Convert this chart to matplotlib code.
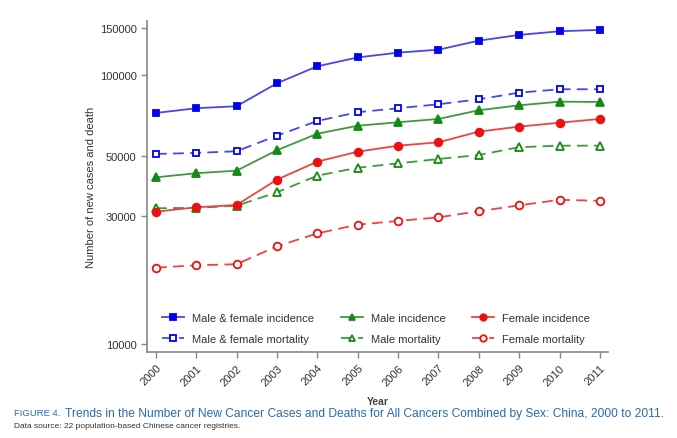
import matplotlib
matplotlib.use("Agg")
import matplotlib.pyplot as plt
from matplotlib.ticker import FixedLocator, NullLocator

plt.rcParams['font.family'] = ['Liberation Sans', 'DejaVu Sans']

years = [2000, 2001, 2002, 2003, 2004, 2005, 2006, 2007, 2008, 2009, 2010, 2011]
mf_incidence = [72400, 75400, 76700, 93400, 108000, 116500, 121400, 124500, 134500, 141300, 145800, 147500]
mf_mortality = [50950, 51400, 52150, 59600, 67600, 72850, 75400, 78000, 81400, 86150, 88700, 88700]
m_incidence = [41700, 43200, 44150, 52600, 60600, 64900, 66850, 68770, 74100, 77300, 79750, 79550]
m_mortality = [32000, 32100, 32700, 36700, 42300, 45300, 47000, 48800, 50500, 54000, 54700, 54700]
f_incidence = [31070, 32270, 32900, 40900, 47700, 51960, 54700, 56300, 61700, 64400, 66600, 68770]
f_mortality = [19230, 19630, 19810, 23100, 25800, 27800, 28700, 29600, 31200, 32800, 34400, 34100]
yticks = [10000, 30000, 50000, 100000, 150000]
labels = ["Male & female incidence", "Male & female mortality", "Male incidence",
          "Male mortality", "Female incidence", "Female mortality"]

fig = plt.figure(figsize=(6.77, 4.39), dpi=100)
ax = fig.add_axes([147/677, 1-353/439, (608-147)/677, (353-22)/439])

styles = {
    'blue': ('#4848e4', '#0000f0'),
    'green': ('#3d9a3d', '#138a13'),
    'red': ('#ec4444', '#ee1010'),
}
series = [
    (mf_incidence, 'blue', '-', 's', True, 5.0),
    (mf_mortality, 'blue', '--', 's', False, 5.0),
    (m_incidence, 'green', '-', '^', True, 5.5),
    (m_mortality, 'green', '--', '^', False, 5.5),
    (f_incidence, 'red', '-', 'o', True, 5.5),
    (f_mortality, 'red', '--', 'o', False, 5.5),
]
handles = []
for (vals, c, ls, mk, filled, ms), lab in zip(series, labels):
    lc, mc = styles[c]
    h, = ax.plot(years, vals, color=lc, linestyle=ls, marker=mk, markersize=ms,
                 markerfacecolor=mc if filled else 'white', markeredgecolor=mc,
                 markeredgewidth=1.3, linewidth=1.3,
                 dashes=(6, 3.5) if ls == '--' else (None, None), label=lab)
    handles.append(h)

ax.set_yscale('log')
ax.set_ylim(9337, 159200)
ax.set_xlim(1999.78, 2011.2)
ax.yaxis.set_major_locator(FixedLocator(yticks))
ax.yaxis.set_minor_locator(NullLocator())
ax.set_yticklabels([str(v) for v in yticks], fontsize=8, color='#333333')
ax.set_xticks(years)
ax.set_xticklabels([str(y) for y in years], rotation=45, ha='right', rotation_mode='anchor',
                   fontsize=8, color='#333333')
for s in ['top', 'right']:
    ax.spines[s].set_visible(False)
for s in ['left', 'bottom']:
    ax.spines[s].set_color('#888888')
    ax.spines[s].set_linewidth(1.2)
ax.tick_params(color='#888888', length=4, width=1)
ax.set_ylabel("Number of new cases and death", fontsize=8, color='#333333', labelpad=3)

leg = fig.legend(handles=handles, ncol=3, loc='upper left',
                 bbox_to_anchor=(162/677, 1-314/439), bbox_transform=fig.transFigure,
                 frameon=False, fontsize=8, handlelength=2.0, columnspacing=2.4,
                 labelspacing=0.95, handletextpad=0.7, borderpad=0, borderaxespad=0,
                 markerscale=0.85)
for t in leg.get_texts():
    t.set_color('#333333')

fig.text(378/677, 1-402/439, "Year", fontsize=7.5, color='#444444', ha='center', va='center',
         fontweight='bold')
fig.text(14/677, 1-414/439, "FIGURE 4.", fontsize=6.8, color='#2a6ab0', ha='left', va='center')
fig.text(65/677, 1-414/439,
         "Trends in the Number of New Cancer Cases and Deaths for All Cancers Combined by Sex: China, 2000 to 2011.",
         fontsize=8.63, color='#2a6ab0', ha='left', va='center')
fig.text(14/677, 1-427/439, "Data source: 22 population-based Chinese cancer registries.",
         fontsize=6, color='#333333', ha='left', va='center')

fig.savefig("out.png", dpi=100)
